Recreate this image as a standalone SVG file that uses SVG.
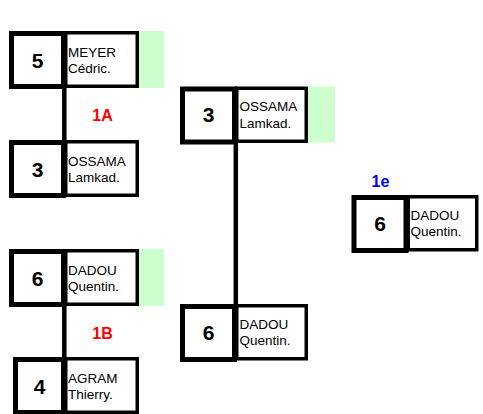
<svg xmlns="http://www.w3.org/2000/svg" width="483" height="414" viewBox="0 0 483 414">
<style>
.bg{fill:#fff}
.green{fill:#CCFFCC}
.nm{fill:#fff;stroke:#000;stroke-width:3.5}
.sc{fill:#fff;stroke:#000;stroke-width:5}
.num{font-family:"Liberation Sans",Arial,sans-serif;font-weight:bold;font-size:21px;text-anchor:middle;fill:#000}
.name{font-family:"Liberation Sans",Arial,sans-serif;font-size:13.5px;fill:#000}
.lbl{font-family:"Liberation Sans",Arial,sans-serif;font-weight:bold;font-size:16px;text-anchor:middle}
.conn{stroke:#000;stroke-width:4.5;fill:none}
</style>
<rect class="bg" x="0" y="0" width="483" height="414"/>
<g id="connectors">
<line class="conn" x1="64.3" y1="88" x2="64.3" y2="141"/>
<line class="conn" x1="64.3" y1="306" x2="64.3" y2="358"/>
<line class="conn" x1="235.8" y1="143" x2="235.8" y2="305"/>
</g>
<g id="n-meyer">
<rect class="green" x="139" y="31" width="25" height="57"/>
<rect class="nm" x="65.75" y="32.75" width="71.5" height="53.5"/>
<rect class="sc" x="11.5" y="33.5" width="52" height="53"/>
<text class="num" x="37.5" y="67.7">5</text>
<text class="name" x="68" y="56.7">MEYER</text>
<text class="name" x="68" y="73.3">Cédric.</text>
</g>
<g id="n-ossama1">
<rect class="nm" x="65.75" y="141.75" width="71.5" height="53.5"/>
<rect class="sc" x="11.5" y="142.5" width="52" height="53"/>
<text class="num" x="37.5" y="176.7">3</text>
<text class="name" x="68" y="165.7">OSSAMA</text>
<text class="name" x="68" y="182.3">Lamkad.</text>
</g>
<g id="n-dadou1">
<rect class="green" x="139" y="249" width="25" height="57"/>
<rect class="nm" x="65.75" y="250.75" width="71.5" height="53.5"/>
<rect class="sc" x="11.5" y="251.5" width="52" height="53"/>
<text class="num" x="37.5" y="285.7">6</text>
<text class="name" x="68" y="274.7">DADOU</text>
<text class="name" x="68" y="291.3">Quentin.</text>
</g>
<g id="n-agram">
<rect class="nm" x="65.75" y="358.75" width="71.5" height="53.5"/>
<rect class="sc" x="15.5" y="359.5" width="48" height="53"/>
<text class="num" x="39.5" y="393.7">4</text>
<text class="name" x="68" y="382.7">AGRAM</text>
<text class="name" x="68" y="399.3">Thierry.</text>
</g>
<g id="n-ossama2">
<rect class="green" x="308" y="86.5" width="27" height="56"/>
<rect class="nm" x="236.75" y="88.25" width="69.5" height="53"/>
<rect class="sc" x="182.5" y="89" width="52" height="53"/>
<text class="num" x="208.5" y="122">3</text>
<text class="name" x="239.5" y="111">OSSAMA</text>
<text class="name" x="239.5" y="127.6">Lamkad.</text>
</g>
<g id="n-dadou2">
<rect class="nm" x="236.75" y="305.75" width="69.5" height="53"/>
<rect class="sc" x="182.5" y="306.5" width="52" height="53"/>
<text class="num" x="208.5" y="340">6</text>
<text class="name" x="239.5" y="328.5">DADOU</text>
<text class="name" x="239.5" y="345.1">Quentin.</text>
</g>
<g id="n-dadou3">
<rect class="nm" x="408.25" y="196.75" width="68.5" height="53"/>
<rect class="sc" x="354" y="197.5" width="52" height="53"/>
<text class="num" x="380" y="231">6</text>
<text class="name" x="410.5" y="219.5">DADOU</text>
<text class="name" x="410.5" y="236.1">Quentin.</text>
</g>
<g id="labels">
<text class="lbl" x="102.5" y="121" fill="#FF0000">1A</text>
<text class="lbl" x="102.5" y="339" fill="#FF0000">1B</text>
<text class="lbl" x="380.5" y="186.7" fill="#0000FF">1e</text>
</g>
</svg>
